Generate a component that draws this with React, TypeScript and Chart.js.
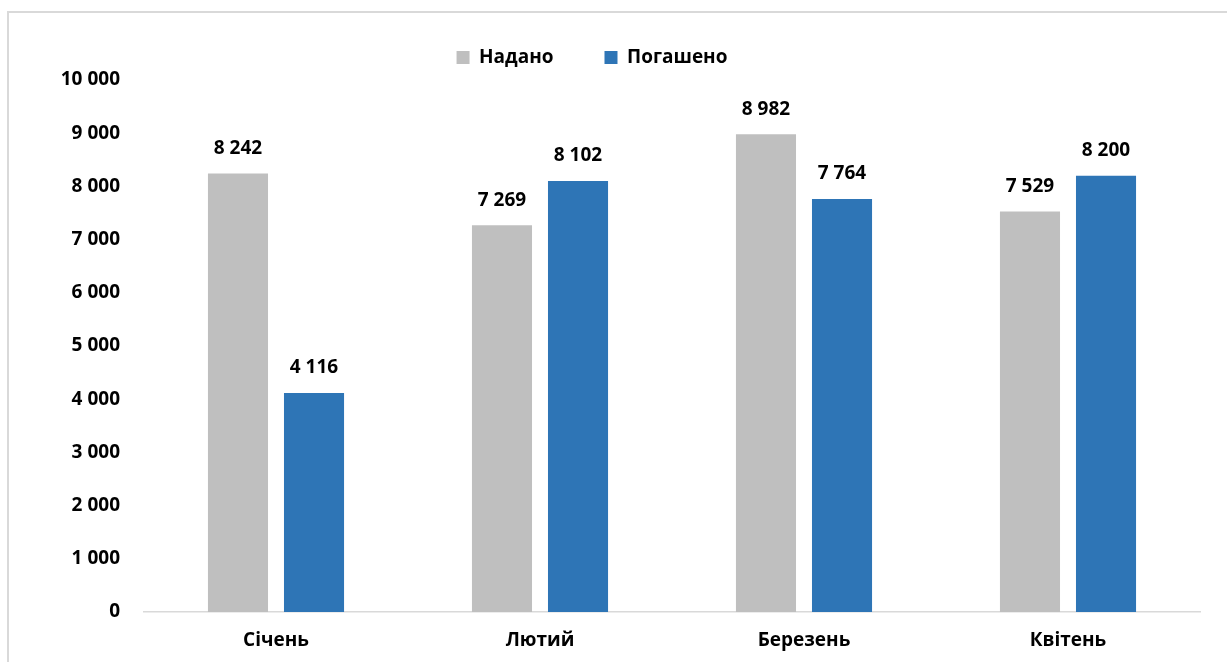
import React, { useEffect, useRef } from "react";
import { Chart, registerables } from "chart.js";

Chart.register(...registerables);

const categories = ["Січень", "Лютий", "Березень", "Квітень"];
const seriesNames = ["Надано", "Погашено"];
const granted = [8242, 7269, 8982, 7529];
const repaid = [4116, 8102, 7764, 8200];
const seriesColors = ["#bfbfbf", "#2e75b6"];
const yMin = 0;
const yMax = 10000;
const yStep = 1000;

const FONT = "'Open Sans', 'DejaVu Sans', sans-serif";
const FONT_SIZE = 19;
const LEGEND_H = 83;

const fmt = (v: number) =>
  String(Math.round(v)).replace(/\B(?=(\d{3})+(?!\d))/g, " ");

const legendHeightPlugin = {
  id: "legendHeightFix",
  beforeLayout(chart: any) {
    const lg = chart.legend;
    if (lg && !lg._patchedFit) {
      const orig = lg.fit.bind(lg);
      lg.fit = function () {
        orig();
        this.height = LEGEND_H;
      };
      lg._patchedFit = true;
    }
  },
};

const valueLabelPlugin = {
  id: "valueLabels",
  afterDatasetsDraw(chart: any) {
    const ctx = chart.ctx;
    ctx.save();
    ctx.font = `bold ${FONT_SIZE}px ${FONT}`;
    ctx.fillStyle = "#000";
    ctx.textAlign = "center";
    ctx.textBaseline = "middle";
    chart.data.datasets.forEach((ds: any, i: number) => {
      const meta = chart.getDatasetMeta(i);
      meta.data.forEach((el: any, j: number) => {
        ctx.fillText(fmt(ds.data[j]), el.x, el.y - 25);
      });
    });
    ctx.restore();
  },
};

export default function App() {
  const ref = useRef<HTMLCanvasElement | null>(null);

  useEffect(() => {
    let chart: Chart | null = null;
    let cancelled = false;
    const make = () => {
      if (cancelled || !ref.current) return;
      chart = new Chart(ref.current, {
        type: "bar",
        data: {
          labels: categories,
          datasets: [
            {
              label: seriesNames[0],
              data: granted,
              backgroundColor: seriesColors[0],
              borderWidth: 0,
              categoryPercentage: 0.576,
              barPercentage: 0.79,
            },
            {
              label: seriesNames[1],
              data: repaid,
              backgroundColor: seriesColors[1],
              borderWidth: 0,
              categoryPercentage: 0.576,
              barPercentage: 0.79,
            },
          ],
        },
        options: {
          responsive: false,
          animation: false,
          devicePixelRatio: 1,
          layout: { padding: { left: 0, right: 27, top: 0, bottom: 0 } },
          font: { family: FONT, size: FONT_SIZE, weight: "bold" } as any,
          plugins: {
            tooltip: { enabled: false },
            legend: {
              display: true,
              position: "top",
              align: "center",
              labels: {
                boxWidth: 13,
                boxHeight: 13,
                padding: 51,
                color: "#000",
                font: { family: FONT, size: FONT_SIZE, weight: "bold" },
              },
            },
          },
          scales: {
            x: {
              grid: { display: false, drawTicks: false },
              border: { display: true, color: "#d9d9d9", width: 1.5 },
              ticks: {
                color: "#000",
                padding: 17,
                font: { family: FONT, size: FONT_SIZE, weight: "bold" },
              },
              afterFit: (s: any) => {
                s.height = 50;
              },
            },
            y: {
              min: yMin,
              max: yMax,
              grid: { display: false, drawTicks: false },
              border: { display: false },
              ticks: {
                stepSize: yStep,
                color: "#000",
                padding: 24,
                font: { family: FONT, size: FONT_SIZE, weight: "bold" },
                callback: (v: any) => fmt(Number(v)),
              },
              afterFit: (s: any) => {
                s.width = 160;
              },
            },
          },
        },
        plugins: [legendHeightPlugin, valueLabelPlugin],
      });
    };
    const fonts: any = (document as any).fonts;
    if (fonts && fonts.load) {
      fonts
        .load(`bold ${FONT_SIZE}px "Open Sans"`)
        .then(make, make);
    } else {
      make();
    }
    return () => {
      cancelled = true;
      if (chart) chart.destroy();
    };
  }, []);

  return (
    <div
      style={{
        position: "fixed",
        left: 0,
        top: 0,
        width: 1227,
        height: 662,
        overflow: "hidden",
        background: "#fff",
      }}
    >
      <div
        style={{
          position: "absolute",
          left: 7,
          top: 11,
          width: 1260,
          height: 700,
          border: "2px solid #d9d9d9",
          boxSizing: "border-box",
        }}
      />
      <canvas
        ref={ref}
        width={1243}
        height={665}
        style={{
          position: "absolute",
          left: -16,
          top: -3,
          width: 1243,
          height: 665,
        }}
      />
    </div>
  );
}
